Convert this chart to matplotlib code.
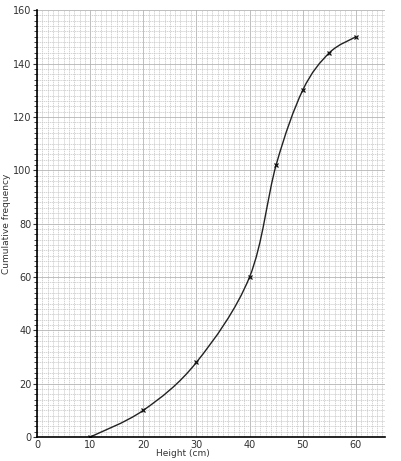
import numpy as np
import matplotlib
matplotlib.use("Agg")
import matplotlib.pyplot as plt
from matplotlib.path import Path
from matplotlib.patches import PathPatch

# upper class boundaries and cumulative frequencies
height = [10, 20, 30, 40, 45, 50, 55, 60]
cum_freq = [0, 10, 28, 60, 102, 130, 144, 150]

fig = plt.figure(figsize=(4.02, 4.61), dpi=100)
ax = fig.add_axes([0.092, 0.052, 0.866, 0.926])

ax.set_xlim(0, 65.5)
ax.set_ylim(0, 160)

# graph paper grid
ax.set_xticks(np.arange(0, 61, 10))
ax.set_yticks(np.arange(0, 161, 20))
ax.set_xticks(np.arange(0, 66, 1), minor=True)
ax.set_yticks(np.arange(0, 161, 2), minor=True)
ax.grid(which="minor", color="#c4c4c4", linewidth=0.5, linestyle=(0, (2, 1)))
ax.grid(which="major", color="#b4b4b4", linewidth=0.6)
ax.set_axisbelow(True)

for s in ["top", "right"]:
    ax.spines[s].set_visible(False)
ax.spines["left"].set_linewidth(1.2)
ax.spines["bottom"].set_linewidth(1.2)

ax.tick_params(which="major", labelsize=7, length=3, color="#333333", labelcolor="#333333", pad=1)
ax.tick_params(axis="x", which="major", length=0, pad=2)
ax.tick_params(which="minor", length=0)
ax.tick_params(axis="y", which="minor", length=2, width=0.5)

ax.set_xlabel("Height (cm)", fontsize=6.5, color="#333333")
ax.xaxis.set_label_coords(0.42, -0.028)
ax.set_ylabel("Cumulative frequency", fontsize=6.5, color="#333333")
ax.yaxis.set_label_coords(-0.075, 0.5)

# smooth curve as a Bezier path through the points (Catmull-Rom handles)
x = np.array(height, dtype=float)
y = np.array(cum_freq, dtype=float)
pts = np.column_stack([x, y])
verts = [pts[0]]
codes = [Path.MOVETO]
for i in range(len(pts) - 1):
    p0 = pts[i - 1] if i > 0 else pts[i]
    p1 = pts[i]
    p2 = pts[i + 1]
    p3 = pts[i + 2] if i + 2 < len(pts) else pts[i + 1]
    c1 = p1 + (p2 - p0) / 6.0
    c2 = p2 - (p3 - p1) / 6.0
    verts += [c1, c2, p2]
    codes += [Path.CURVE4] * 3
ax.add_patch(PathPatch(Path(verts, codes), fill=False, edgecolor="#222222", linewidth=1.0))

ax.plot(height, cum_freq, "x", color="#111111", markersize=3.5, markeredgewidth=0.9)

fig.savefig("out.png", dpi=100)
